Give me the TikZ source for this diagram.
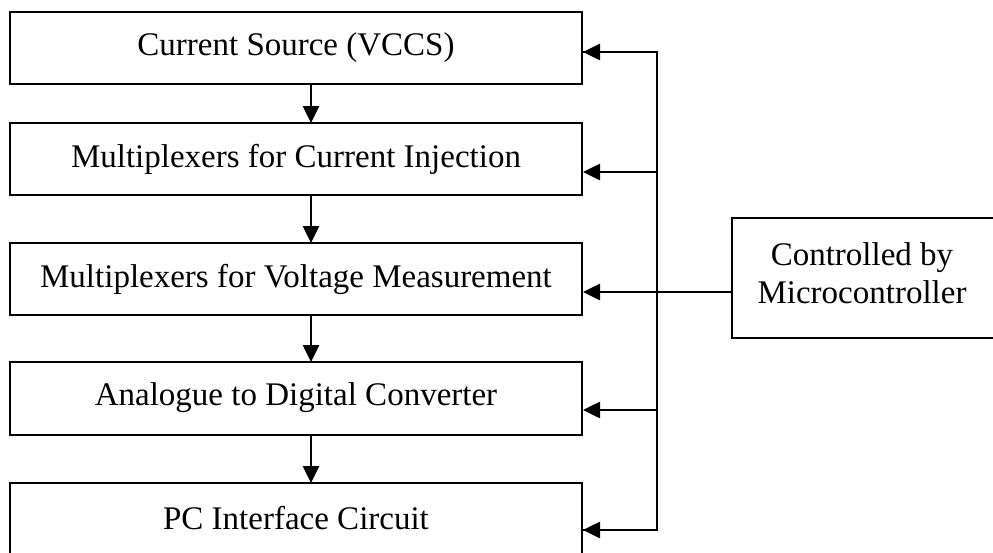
\documentclass[tikz,border=0pt]{standalone}
\usepackage{fontspec}
\setmainfont{Liberation Serif}
\usetikzlibrary{arrows.meta}
\begin{document}
\begin{tikzpicture}[x=1pt,y=-1pt,
  blk/.style={draw,line width=2.6pt},
  lbl/.style={font=\fontsize{33}{38}\selectfont,inner sep=0pt,align=center},
  ctl/.style={line width=2.6pt,-{Triangle[length=17pt,width=16pt]}},
  bus/.style={line width=2.6pt,line join=miter}]
\useasboundingbox (0,0) rectangle (993,552);
\begin{scope}
\clip (0,0) rectangle (993,552);
% boxes
\draw[blk] (10,12) rectangle (582,84);
\draw[blk] (10,123) rectangle (582,195);
\draw[blk] (10,243) rectangle (582,315);
\draw[blk] (10,362) rectangle (582,435);
\draw[blk] (10,483) rectangle (582,600);
\draw[blk] (732,218) rectangle (1010,338);
% labels
\node[lbl] (b1) at (296,48) {Current Source (VCCS)};
\node[lbl] (b2) at (296,159) {Multiplexers for Current Injection};
\node[lbl] (b3) at (296,279) {Multiplexers for Voltage Measurement};
\node[lbl] (b4) at (296,398) {Analogue to Digital Converter};
\node[lbl] (b5) at (296,518) {PC Interface Circuit};
\node[lbl] (mc) at (862,273) {Controlled by\\Microcontroller};
% vertical arrows between boxes
\coordinate (a1s) at (311,84);  \coordinate (a1e) at (311,123);
\coordinate (a2s) at (311,195); \coordinate (a2e) at (311,243);
\coordinate (a3s) at (311,315); \coordinate (a3e) at (311,362);
\coordinate (a4s) at (311,435); \coordinate (a4e) at (311,483);
\draw[ctl] (a1s) -- (a1e);
\draw[ctl] (a2s) -- (a2e);
\draw[ctl] (a3s) -- (a3e);
\draw[ctl] (a4s) -- (a4e);
% control bus
\coordinate (t1) at (657,52);  \coordinate (e1) at (583,52);
\coordinate (t2) at (657,172); \coordinate (e2) at (583,172);
\coordinate (mcl) at (732,292); \coordinate (e3) at (583,292);
\coordinate (t4) at (657,410); \coordinate (e4) at (583,410);
\coordinate (t5) at (657,530); \coordinate (e5) at (583,530);
\draw[bus] (e1) -- (t1) -- (t5) -- (e5);
\draw[ctl] (t1) -- (e1);
\draw[ctl] (t2) -- (e2);
\draw[ctl] (mcl) -- (e3);
\draw[ctl] (t4) -- (e4);
\draw[ctl] (t5) -- (e5);
\end{scope}
\end{tikzpicture}
\end{document}
